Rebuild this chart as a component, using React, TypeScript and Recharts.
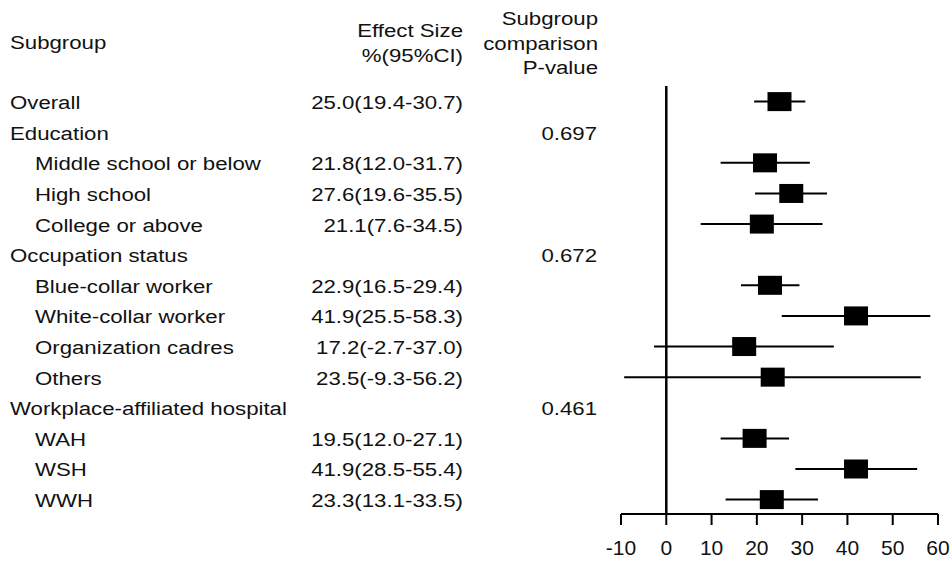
import React from 'react'
import {
  ScatterChart, Scatter, XAxis, YAxis, ErrorBar, ReferenceLine, Customized,
} from 'recharts'

const LABELS = [
  'Overall', 'Education', 'Middle school or below', 'High school', 'College or above',
  'Occupation status', 'Blue-collar worker', 'White-collar worker', 'Organization cadres', 'Others',
  'Workplace-affiliated hospital', 'WAH', 'WSH', 'WWH',
]
const INDENT = [false, false, true, true, true, false, true, true, true, true, false, true, true, true]
const EST = [25.0, null, 21.8, 27.6, 21.1, null, 22.9, 41.9, 17.2, 23.5, null, 19.5, 41.9, 23.3]
const LOWER = [19.4, null, 12.0, 19.6, 7.6, null, 16.5, 25.5, -2.7, -9.3, null, 12.0, 28.5, 13.1]
const UPPER = [30.7, null, 31.7, 35.5, 34.5, null, 29.4, 58.3, 37.0, 56.2, null, 27.1, 55.4, 33.5]
const PVALUES = ['', '0.697', '', '', '', '0.672', '', '', '', '', '0.461', '', '', '']
const X_TICKS = [-10, 0, 10, 20, 30, 40, 50, 60]
const ROW_TICKS = LABELS.map((_, i) => i)

const FONT = '"Liberation Sans", Arial, sans-serif'
const INK = '#111'

const data = EST.flatMap((e, i) =>
  e == null ? [] : [{ row: i, est: e, err: [e - (LOWER[i] as number), (UPPER[i] as number) - e] }]
)

function fmt(i: number) {
  const e = EST[i]
  if (e == null) return ''
  return `${e.toFixed(1)}(${(LOWER[i] as number).toFixed(1)}-${(UPPER[i] as number).toFixed(1)})`
}

// text in the reference is stretched sideways, so scale it a bit
function Txt({ x, y, anchor = 'start', children }: { x: number; y: number; anchor?: string; children: React.ReactNode }) {
  return (
    <text
      transform={`translate(${x},${y}) scale(1.17,1)`}
      textAnchor={anchor}
      fontSize={19}
      fontFamily={FONT}
      fill={INK}
    >
      {children}
    </text>
  )
}

function RowTick(props: any) {
  const { y, payload } = props
  const i = payload.value as number
  const base = y + 7.5
  return (
    <g>
      <Txt x={INDENT[i] ? 35 : 10} y={base}>{LABELS[i]}</Txt>
      <Txt x={463} y={base} anchor="end">{fmt(i)}</Txt>
      {PVALUES[i] && <Txt x={597} y={base} anchor="end">{PVALUES[i]}</Txt>}
    </g>
  )
}

function Headers() {
  return (
    <g>
      <Txt x={10} y={49}>Subgroup</Txt>
      <Txt x={463} y={37} anchor="end">Effect Size</Txt>
      <Txt x={463} y={62} anchor="end">%(95%CI)</Txt>
      <Txt x={598} y={25} anchor="end">Subgroup</Txt>
      <Txt x={598} y={50} anchor="end">comparison</Txt>
      <Txt x={598} y={74} anchor="end">P-value</Txt>
    </g>
  )
}

function Box(props: any) {
  const { cx, cy } = props
  return <rect x={cx - 12} y={cy - 9.5} width={24} height={19} fill="#000" />
}

export default function App() {
  return (
    <div style={{ position: 'absolute', left: 0, top: 0, background: '#fff' }}>
      <ScatterChart width={952} height={561} margin={{ top: 86, right: 14, bottom: 7, left: 0 }}>
        <XAxis
          type="number"
          dataKey="est"
          domain={[-10, 60]}
          ticks={X_TICKS}
          interval={0}
          height={40}
          tickSize={11}
          tickMargin={15}
          axisLine={{ stroke: '#000', strokeWidth: 2 }}
          tickLine={{ stroke: '#000', strokeWidth: 2 }}
          tick={{ fontSize: 21, fill: INK, fontFamily: FONT }}
        />
        <YAxis
          type="number"
          dataKey="row"
          domain={[-0.51, 13.47]}
          reversed
          ticks={ROW_TICKS}
          interval={0}
          width={621}
          axisLine={false}
          tickLine={false}
          tick={RowTick}
        />
        <ReferenceLine x={0} stroke="#000" strokeWidth={2.5} />
        <Scatter data={data} shape={Box} isAnimationActive={false}>
          <ErrorBar dataKey="err" direction="x" width={0} stroke="#000" strokeWidth={2} />
        </Scatter>
        <Customized component={Headers} />
      </ScatterChart>
    </div>
  )
}
